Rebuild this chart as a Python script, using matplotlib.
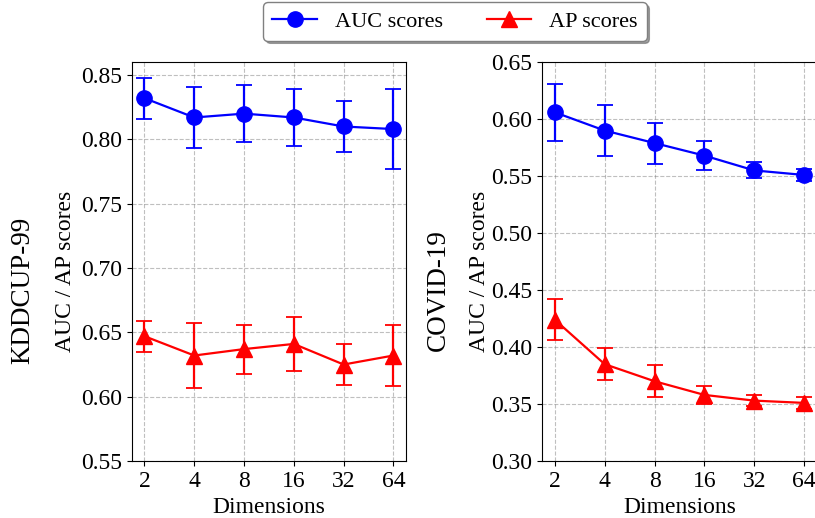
import matplotlib
matplotlib.use("Agg")
import matplotlib.pyplot as plt
from matplotlib.ticker import FormatStrFormatter

plt.rcParams["font.family"] = ["Liberation Serif", "DejaVu Serif"]

dims = ["2", "4", "8", "16", "32", "64"]

# KDDCUP-99
kdd_auc = [0.832, 0.817, 0.820, 0.817, 0.810, 0.808]
kdd_auc_err = [0.016, 0.024, 0.022, 0.022, 0.020, 0.031]
kdd_ap = [0.647, 0.632, 0.637, 0.641, 0.625, 0.632]
kdd_ap_err = [0.012, 0.025, 0.019, 0.021, 0.016, 0.024]

# COVID-19
cov_auc = [0.606, 0.590, 0.579, 0.568, 0.555, 0.551]
cov_auc_err = [0.025, 0.022, 0.018, 0.013, 0.007, 0.005]
cov_ap = [0.424, 0.385, 0.370, 0.358, 0.353, 0.351]
cov_ap_err = [0.018, 0.014, 0.014, 0.008, 0.005, 0.005]

panels = [
    ("KDDCUP-99", kdd_auc, kdd_auc_err, kdd_ap, kdd_ap_err, (0.55, 0.86), 0.55, 0.85),
    ("COVID-19", cov_auc, cov_auc_err, cov_ap, cov_ap_err, (0.30, 0.65), 0.30, 0.65),
]

fig = plt.figure(figsize=(8.15, 5.18), dpi=100)
ax_rects = [[0.162, 0.110, 0.336, 0.770], [0.6654, 0.110, 0.3366, 0.770]]
name_x = [23 / 815, 438 / 815]
label_x = [-0.204, -0.19]

handles = None
for rect, nx, lx, (name, auc, auc_e, ap, ap_e, ylim, y0, y1) in zip(ax_rects, name_x, label_x, panels):
    ax = fig.add_axes(rect)
    x = list(range(len(dims)))
    h1 = ax.errorbar(x, auc, yerr=auc_e, color="blue", marker="o", markersize=11,
                     linewidth=1.6, elinewidth=1.6, capsize=6, capthick=1.3)
    h2 = ax.errorbar(x, ap, yerr=ap_e, color="red", marker="^", markersize=12,
                     linewidth=1.6, elinewidth=1.6, capsize=6, capthick=1.3)
    handles = [h1[0], h2[0]]  # legend shows line + marker only, no caps
    ax.set_xticks(x)
    ax.set_xticklabels(dims)
    ax.set_xlim(-0.25, 5.25)
    ax.set_ylim(*ylim)
    ticks = [round(y0 + 0.05 * i, 2) for i in range(int(round((y1 - y0) / 0.05)) + 1)]
    ax.set_yticks(ticks)
    ax.yaxis.set_major_formatter(FormatStrFormatter("%.2f"))
    ax.tick_params(labelsize=17)
    ax.grid(True, linestyle="--", color="gray", alpha=0.5)
    ax.set_xlabel("Dimensions", fontsize=17, labelpad=4)
    ax.set_ylabel("AUC / AP scores", fontsize=17)
    ax.yaxis.set_label_coords(lx, 0.476)
    fig.text(nx, 0.44, name, rotation=90, fontsize=19.5, ha="center", va="center")

fig.legend(handles, ["AUC scores", "AP scores"], loc="upper center",
           bbox_to_anchor=(455 / 815, 1.0), ncol=2, fontsize=16, shadow=True,
           edgecolor="gray", columnspacing=2.0, borderaxespad=0.1)

fig.savefig("out.png", dpi=100)
